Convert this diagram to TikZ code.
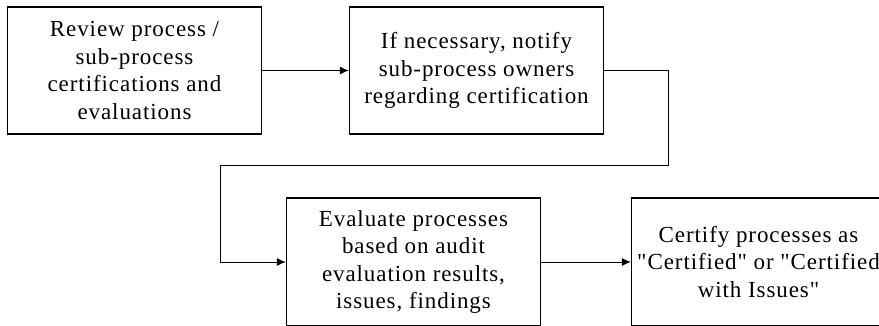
\documentclass[tikz,border=0pt]{standalone}
\usepackage{fontspec}
\setmainfont{Liberation Serif}[Ligatures=TeXOff, LetterSpace=4]
\usetikzlibrary{arrows.meta}

\begin{document}
\begin{tikzpicture}[x=1pt, y=-1pt, line width=1pt, >={Latex[length=9pt,width=8pt]},
    stepbox/.style={draw, line width=1.3pt, minimum width=254pt, align=center,
      font=\fontsize{23}{27.5}\selectfont}]
    \useasboundingbox[clip] (0,0) rectangle (879,325);

    % Define steps
    \node[stepbox, minimum height=127pt] (A) at (134.5,70.5)
      {Review process /\\sub-process\\certifications and\\evaluations};
    \node[stepbox, minimum height=127pt] (B) at (476.5,70.5)
      {If necessary, notify\\sub-process owners\\regarding certification};
    \node[stepbox, minimum height=128pt] (C) at (413.5,262)
      {Evaluate processes\\based on audit\\evaluation results,\\issues, findings};
    \node[stepbox, minimum height=128pt] (D) at (758.5,262)
      {Certify processes as\\"Certified" or "Certified\\with Issues"};

    % Bend points
    \coordinate (r) at (668,165);
    \coordinate (l) at (220,165);

    % Transitions between steps
    \draw[->] (A) -- (B);
    \draw[->] (B.east) -| (r) -- (l) |- (C.west);
    \draw[->] (C) -- (D);

\end{tikzpicture}
\end{document}
